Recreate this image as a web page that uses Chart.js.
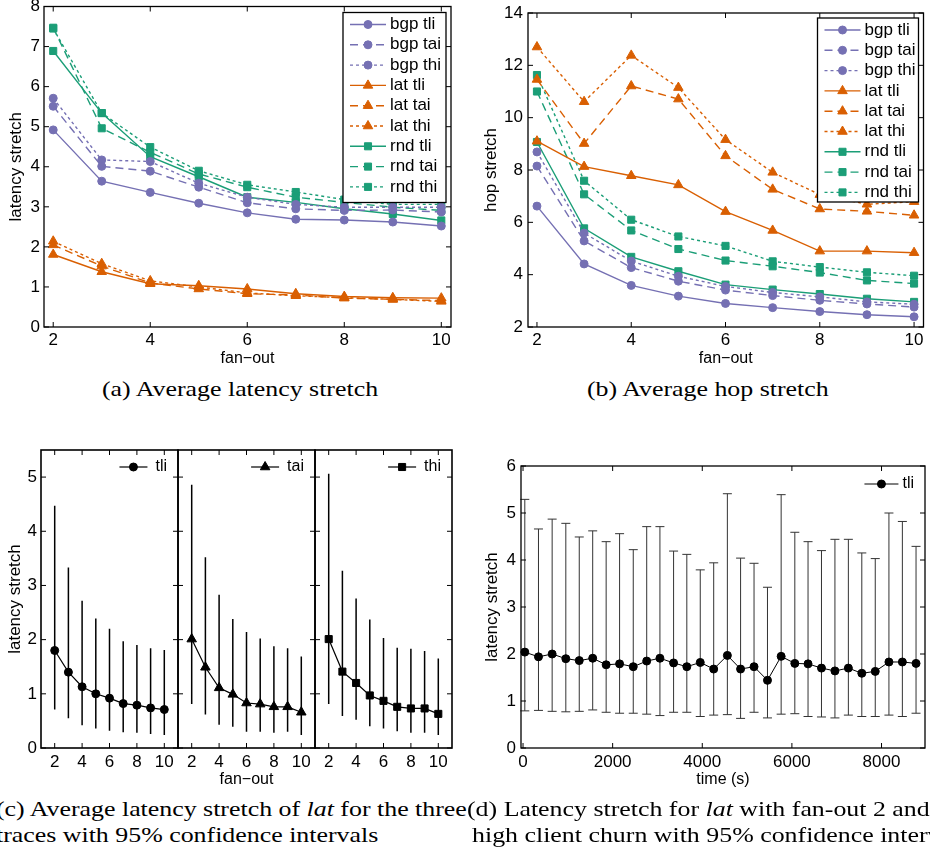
<!DOCTYPE html>
<html>
<head>
<meta charset="utf-8">
<script src="https://cdn.jsdelivr.net/npm/chart.js@4/dist/chart.umd.min.js"></script>
<style>
  body { margin: 0; background: #fff; }
  #page { position: relative; width: 930px; height: 851px; overflow: hidden; background: #fff; }
  canvas { position: absolute; }
  .cap { position: absolute; white-space: nowrap; font-family: 'Liberation Serif', 'Times New Roman', serif;
         font-size: 21px; line-height: 21px; color: #000; transform-origin: 0 0; }
</style>
</head>
<body>
<div id="page">
  <canvas id="chartA" width="460" height="372" style="left:0;top:0"></canvas>
  <canvas id="chartB" width="460" height="372" style="left:470px;top:0"></canvas>
  <canvas id="chartC1" width="186" height="352" style="left:0;top:440px"></canvas>
  <canvas id="chartC2" width="153" height="352" style="left:170px;top:440px"></canvas>
  <canvas id="chartC3" width="153" height="352" style="left:307px;top:440px"></canvas>
  <canvas id="chartD" width="460" height="352" style="left:470px;top:440px"></canvas>

  <div class="cap" id="capA" style="left:102px;top:379px">(a) Average latency stretch</div>
  <div class="cap" style="left:587px;top:379px">(b) Average hop stretch</div>
  <div class="cap" style="left:-4px;top:799px">(c) Average latency stretch of <i>lat</i> for the three</div>
  <div class="cap" style="left:-4px;top:825px">traces with 95% confidence intervals</div>
  <div class="cap" style="left:467px;top:799px">(d) Latency stretch for <i>lat</i> with fan-out 2 and</div>
  <div class="cap" style="left:472px;top:825px">high client churn with 95% confidence intervals</div>
</div>

<script>
// shared x values for (a), (b), (c)
const fanOut = [2, 3, 4, 5, 6, 7, 8, 9, 10];
const fanOutTicks = [2, 4, 6, 8, 10];

// (a) average latency stretch
const latencyBgpTli = [4.92, 3.64, 3.36, 3.09, 2.85, 2.69, 2.67, 2.62, 2.52];
const latencyBgpTai = [5.51, 4.01, 3.89, 3.49, 3.10, 2.95, 2.91, 2.92, 2.87];
const latencyBgpThi = [5.71, 4.17, 4.13, 3.59, 3.24, 3.06, 2.99, 2.99, 2.99];
const latencyLatTli = [1.81, 1.38, 1.08, 1.03, 0.95, 0.83, 0.76, 0.73, 0.72];
const latencyLatTai = [2.05, 1.52, 1.10, 0.95, 0.83, 0.80, 0.72, 0.69, 0.66];
const latencyLatThi = [2.14, 1.58, 1.15, 1.00, 0.85, 0.78, 0.73, 0.69, 0.64];
const latencyRndTli = [6.89, 5.34, 4.25, 3.75, 3.24, 3.11, 2.95, 2.82, 2.66];
const latencyRndTai = [7.47, 4.96, 4.36, 3.82, 3.49, 3.24, 3.11, 2.99, 2.91];
const latencyRndThi = [7.45, 5.34, 4.49, 3.90, 3.55, 3.37, 3.18, 3.06, 3.06];
const latencyTicks = [0, 1, 2, 3, 4, 5, 6, 7, 8];

// (b) average hop stretch
const hopBgpTli = [6.62, 4.41, 3.59, 3.18, 2.90, 2.74, 2.59, 2.47, 2.39];
const hopBgpTai = [8.15, 5.29, 4.27, 3.75, 3.41, 3.20, 3.02, 2.88, 2.76];
const hopBgpThi = [8.69, 5.59, 4.52, 3.94, 3.55, 3.32, 3.15, 2.96, 2.87];
const hopLatTli = [9.10, 8.13, 7.78, 7.43, 6.41, 5.69, 4.90, 4.90, 4.84];
const hopLatTai = [11.46, 9.01, 11.21, 10.71, 8.54, 7.26, 6.51, 6.42, 6.27];
const hopLatThi = [12.70, 10.61, 12.38, 11.15, 9.16, 7.91, 7.06, 6.69, 6.79];
const hopRndTli = [9.07, 5.77, 4.68, 4.13, 3.62, 3.43, 3.26, 3.08, 2.96];
const hopRndTai = [11.00, 7.07, 5.69, 4.98, 4.54, 4.32, 4.08, 3.78, 3.66];
const hopRndThi = [11.63, 7.59, 6.10, 5.46, 5.10, 4.51, 4.29, 4.09, 3.96];
const hopTicks = [2, 4, 6, 8, 10, 12, 14];

// (c) lat per trace, mean and 95% interval
const tliMean = [1.80, 1.40, 1.13, 1.00, 0.92, 0.82, 0.79, 0.74, 0.71];
const tliLow  = [0.71, 0.55, 0.42, 0.36, 0.32, 0.29, 0.28, 0.26, 0.24];
const tliHigh = [4.47, 3.33, 2.72, 2.39, 2.20, 1.97, 1.90, 1.84, 1.81];
const taiMean = [2.01, 1.49, 1.11, 0.99, 0.83, 0.81, 0.76, 0.76, 0.66];
const taiLow  = [0.81, 0.62, 0.43, 0.39, 0.30, 0.30, 0.28, 0.30, 0.24];
const taiHigh = [4.86, 3.52, 2.83, 2.38, 2.14, 2.02, 1.88, 1.84, 1.69];
const thiMean = [2.01, 1.41, 1.20, 0.97, 0.87, 0.76, 0.73, 0.73, 0.63];
const thiLow  = [0.81, 0.59, 0.52, 0.40, 0.36, 0.31, 0.28, 0.28, 0.24];
const thiHigh = [5.06, 3.27, 2.76, 2.37, 2.03, 1.85, 1.83, 1.79, 1.65];
const traceTicks = [0, 1, 2, 3, 4, 5];

// (d) churn over time
const churnTime = [40, 345, 650, 955, 1255, 1555, 1855, 2155, 2460, 2760, 3055, 3360, 3655, 3955, 4255,
                   4560, 4855, 5155, 5455, 5760, 6065, 6360, 6660, 6960, 7260, 7560, 7860, 8165, 8465, 8770];
const churnMean = [2.04, 1.94, 2.00, 1.90, 1.86, 1.91, 1.77, 1.79, 1.73, 1.85, 1.91, 1.81, 1.73, 1.82, 1.68,
                   1.97, 1.68, 1.73, 1.44, 1.95, 1.80, 1.79, 1.70, 1.64, 1.70, 1.59, 1.63, 1.83, 1.83, 1.80];
const churnLow  = [0.79, 0.80, 0.78, 0.77, 0.78, 0.81, 0.76, 0.74, 0.74, 0.72, 0.69, 0.76, 0.76, 0.67, 0.70,
                   0.71, 0.63, 0.76, 0.64, 0.72, 0.73, 0.67, 0.66, 0.64, 0.70, 0.67, 0.67, 0.70, 0.67, 0.74];
const churnHigh = [5.29, 4.66, 4.87, 4.78, 4.49, 4.62, 4.39, 4.56, 4.22, 4.71, 4.71, 4.19, 4.12, 3.79, 3.94,
                   5.41, 4.04, 3.93, 3.42, 5.39, 4.59, 4.39, 4.20, 4.44, 4.44, 4.15, 4.03, 5.00, 4.82, 4.29];
const timeTicks = [0, 2000, 4000, 6000, 8000];
const churnYTicks = [0, 1, 2, 3, 4, 5, 6];

Chart.defaults.font.family = "'Liberation Sans', Arial, sans-serif";
Chart.defaults.color = '#000';

const colors = { bgp: '#7570b3', lat: '#d95f02', rnd: '#1b9e77' };
const markers = { bgp: 'circle', lat: 'triangle', rnd: 'rect' };
const radii = { bgp: 4, lat: 5.5, rnd: 5 };
const dashes = { tli: [], tai: [8, 5], thi: [3, 3] };

function series(algo, trace, values) {
  return {
    label: `${algo} ${trace}`,
    data: values.map((v, i) => ({ x: fanOut[i], y: v })),
    borderColor: colors[algo],
    backgroundColor: colors[algo],
    borderWidth: 1.4,
    borderDash: dashes[trace],
    pointStyle: markers[algo],
    pointRadius: radii[algo],
    pointBorderWidth: 1,
    clip: false
  };
}

function axis(min, max, tickValues, size, opts = {}) {
  return {
    type: 'linear', min, max,
    grid: { display: false, drawTicks: false },
    border: { display: false },
    ticks: {
      display: opts.labels !== false, padding: opts.labelPad || 4,
      font: { size: 17 }, color: '#000', autoSkip: false, maxRotation: 0,
      callback: v => String(v)
    },
    title: opts.title
      ? { display: true, text: opts.title, color: '#000', font: { size: opts.titleSize || 16, lineHeight: 1.2 }, padding: opts.titlePad }
      : { display: false },
    afterBuildTicks: s => { s.ticks = tickValues.map(v => ({ value: v })); },
    afterFit: s => {
      if (s.isHorizontal()) s.height = size; else s.width = size;
      s.paddingLeft = s.paddingRight = s.paddingTop = s.paddingBottom = 0;
    }
  };
}

// matlab style box with inward ticks on every side
const matlabBox = {
  id: 'matlabBox',
  afterDatasetsDraw(chart, args, opts) {
    const { ctx, chartArea: a, scales: { x, y } } = chart;
    ctx.save();
    ctx.strokeStyle = '#000';
    ctx.lineWidth = 1;
    ctx.beginPath();
    x.ticks.forEach(t => {
      const px = x.getPixelForValue(t.value);
      ctx.moveTo(px, a.bottom); ctx.lineTo(px, a.bottom - 5);
      ctx.moveTo(px, a.top); ctx.lineTo(px, a.top + 5);
    });
    y.ticks.forEach(t => {
      const py = y.getPixelForValue(t.value);
      ctx.moveTo(a.left, py); ctx.lineTo(a.left + 5, py);
      ctx.moveTo(a.right, py); ctx.lineTo(a.right - 5, py);
    });
    ctx.stroke();
    ctx.lineWidth = (opts && opts.width) || 1.3;
    ctx.strokeRect(a.left, a.top, a.right - a.left, a.bottom - a.top);
    ctx.restore();
  }
};

const errorBars = {
  id: 'errorBars',
  beforeDatasetsDraw(chart, args, opts) {
    if (!opts || !opts.low) return;
    const { ctx, scales: { x, y } } = chart;
    ctx.save();
    ctx.strokeStyle = opts.color;
    ctx.lineWidth = opts.width;
    ctx.beginPath();
    opts.xs.forEach((xv, i) => {
      const px = x.getPixelForValue(xv);
      const lo = y.getPixelForValue(opts.low[i]);
      const hi = y.getPixelForValue(opts.high[i]);
      ctx.moveTo(px, lo); ctx.lineTo(px, hi);
      if (opts.cap) {
        ctx.moveTo(px - opts.cap, lo); ctx.lineTo(px + opts.cap, lo);
        ctx.moveTo(px - opts.cap, hi); ctx.lineTo(px + opts.cap, hi);
      }
    });
    ctx.stroke();
    ctx.restore();
  }
};

function drawSample(ctx, ds, x0, x1, y) {
  ctx.strokeStyle = ds.borderColor;
  ctx.lineWidth = ds.borderWidth;
  ctx.setLineDash(ds.borderDash || []);
  ctx.beginPath(); ctx.moveTo(x0, y); ctx.lineTo(x1, y); ctx.stroke();
  ctx.setLineDash([]);
  ctx.fillStyle = ds.backgroundColor;
  ctx.lineWidth = 1;
  Chart.helpers.drawPoint(ctx, { pointStyle: ds.pointStyle, radius: ds.pointRadius, rotation: 0, borderWidth: 1 }, (x0 + x1) / 2, y);
}

// legend drawn inside the axes like matlab does
const innerLegend = {
  id: 'innerLegend',
  afterDraw(chart, args, opts) {
    if (!opts || !opts.font) return;
    const { ctx, chartArea: a } = chart;
    const items = chart.data.datasets;
    ctx.save();
    ctx.font = opts.font;
    ctx.textBaseline = 'middle';
    if (opts.boxed) {
      const left = a.right - opts.right - opts.width;
      const top = a.top + opts.top;
      ctx.fillStyle = '#fff';
      ctx.fillRect(left, top, opts.width, opts.height);
      ctx.strokeStyle = '#000';
      ctx.lineWidth = 1.3;
      ctx.strokeRect(left, top, opts.width, opts.height);
      items.forEach((ds, i) => {
        const y = top + opts.first + i * opts.rowHeight;
        drawSample(ctx, ds, left + 7, left + 43, y);
        ctx.fillStyle = '#000';
        ctx.textAlign = 'left';
        ctx.fillText(ds.label, left + 47, y);
      });
    } else {
      const ds = items[0];
      const y = a.top + opts.top;
      const textRight = a.right - opts.right;
      const tw = ctx.measureText(ds.label).width;
      const x1 = textRight - tw - opts.gap;
      drawSample(ctx, ds, x1 - opts.lineLen, x1, y);
      ctx.fillStyle = '#000';
      ctx.textAlign = 'right';
      ctx.fillText(ds.label, textRight, y);
    }
    ctx.restore();
  }
};

const basePlugins = { legend: { display: false }, tooltip: { enabled: false } };
const boxedLegend = { boxed: true, font: '17px "Liberation Sans", Arial, sans-serif', rowHeight: 20.3, first: 12 };

// (a)
new Chart(document.getElementById('chartA'), {
  type: 'line',
  data: {
    datasets: [
      series('bgp', 'tli', latencyBgpTli), series('bgp', 'tai', latencyBgpTai), series('bgp', 'thi', latencyBgpThi),
      series('lat', 'tli', latencyLatTli), series('lat', 'tai', latencyLatTai), series('lat', 'thi', latencyLatThi),
      series('rnd', 'tli', latencyRndTli), series('rnd', 'tai', latencyRndTai), series('rnd', 'thi', latencyRndThi)
    ]
  },
  options: {
    responsive: false, animation: false,
    layout: { padding: { left: 0, top: 6, right: 9, bottom: 0 } },
    scales: {
      x: axis(1.81, 10.2, fanOutTicks, 45, { title: 'fan−out', titlePad: { top: 0, bottom: 4 }, labelPad: 3 }),
      y: axis(0, 8, latencyTicks, 44, { title: 'latency stretch', titleSize: 17, titlePad: { top: 6, bottom: 0 }, labelPad: 4 })
    },
    plugins: { ...basePlugins, innerLegend: { ...boxedLegend, right: 5, top: 6, width: 103, height: 190 } }
  },
  plugins: [matlabBox, innerLegend]
});

// (b)
new Chart(document.getElementById('chartB'), {
  type: 'line',
  data: {
    datasets: [
      series('bgp', 'tli', hopBgpTli), series('bgp', 'tai', hopBgpTai), series('bgp', 'thi', hopBgpThi),
      series('lat', 'tli', hopLatTli), series('lat', 'tai', hopLatTai), series('lat', 'thi', hopLatThi),
      series('rnd', 'tli', hopRndTli), series('rnd', 'tai', hopRndTai), series('rnd', 'thi', hopRndThi)
    ]
  },
  options: {
    responsive: false, animation: false,
    layout: { padding: { left: 0, top: 13, right: 3, bottom: 0 } },
    scales: {
      x: axis(1.81, 10.2, fanOutTicks, 45, { title: 'fan−out', titlePad: { top: 0, bottom: 4 }, labelPad: 3 }),
      y: axis(2, 14, hopTicks, 58, { title: 'hop stretch', titleSize: 17, titlePad: { top: 11, bottom: 0 }, labelPad: 5 })
    },
    plugins: { ...basePlugins, innerLegend: { ...boxedLegend, right: 5, top: 5, width: 101, height: 184 } }
  },
  plugins: [matlabBox, innerLegend]
});

// (c) three small panels
function traceChart(id, label, style, radius, mean, low, high, opts) {
  new Chart(document.getElementById(id), {
    type: 'line',
    data: {
      datasets: [{
        label,
        data: mean.map((v, i) => ({ x: fanOut[i], y: v })),
        borderColor: '#000', backgroundColor: '#000', borderWidth: 1.2,
        pointStyle: style, pointRadius: radius, pointBorderWidth: 1, clip: false
      }]
    },
    options: {
      responsive: false, animation: false,
      layout: { padding: { left: opts.padLeft, top: 10, right: 8, bottom: 0 } },
      scales: {
        x: axis(1, 11, fanOutTicks, 44, { title: opts.xTitle, titlePad: { top: 0, bottom: 3 }, labelPad: 4 }),
        y: axis(0, 5.5, traceTicks, opts.yWidth, { labels: opts.yLabels, title: opts.yTitle, titleSize: 17, titlePad: { top: 5, bottom: 0 }, labelPad: 4 })
      },
      plugins: {
        ...basePlugins,
        matlabBox: { width: 1.6 },
        errorBars: { xs: fanOut, low, high, color: '#000', width: 1.5, cap: 0 },
        innerLegend: { font: '16px "Liberation Sans", Arial, sans-serif', top: 17, right: 11, gap: 8, lineLen: 28 }
      }
    },
    plugins: [errorBars, matlabBox, innerLegend]
  });
}

traceChart('chartC1', 'tli', 'circle', 4, tliMean, tliLow, tliHigh, { padLeft: 0, yWidth: 41, yLabels: true, yTitle: 'latency stretch' });
traceChart('chartC2', 'tai', 'triangle', 5.5, taiMean, taiLow, taiHigh, { padLeft: 8, yWidth: 0, yLabels: false, xTitle: 'fan−out' });
traceChart('chartC3', 'thi', 'rect', 5, thiMean, thiLow, thiHigh, { padLeft: 8, yWidth: 0, yLabels: false });

// (d)
new Chart(document.getElementById('chartD'), {
  type: 'line',
  data: {
    datasets: [{
      label: 'tli',
      data: churnMean.map((v, i) => ({ x: churnTime[i], y: v })),
      borderColor: '#000', backgroundColor: '#000', borderWidth: 1,
      pointStyle: 'circle', pointRadius: 4, pointBorderWidth: 1, clip: false
    }]
  },
  options: {
    responsive: false, animation: false,
    layout: { padding: { left: 0, top: 26, right: 4, bottom: 0 } },
    scales: {
      x: axis(-45, 8970, timeTicks, 44, { title: 'time (s)', titlePad: { top: 0, bottom: 3 }, labelPad: 4 }),
      y: axis(0, 6, churnYTicks, 51, { title: 'latency stretch', titleSize: 17, titlePad: { top: 12, bottom: 0 }, labelPad: 5 })
    },
    plugins: {
      ...basePlugins,
      errorBars: { xs: churnTime, low: churnLow, high: churnHigh, color: '#333', width: 1, cap: 4.5 },
      innerLegend: { font: '16px "Liberation Sans", Arial, sans-serif', top: 18, right: 11, gap: 4, lineLen: 34 }
    }
  },
  plugins: [errorBars, matlabBox, innerLegend]
});

// stretch the captions to the width of the latex font
const k = 276 / document.getElementById('capA').offsetWidth;
document.querySelectorAll('.cap').forEach(el => { el.style.transform = `scaleX(${k})`; });
</script>
</body>
</html>
